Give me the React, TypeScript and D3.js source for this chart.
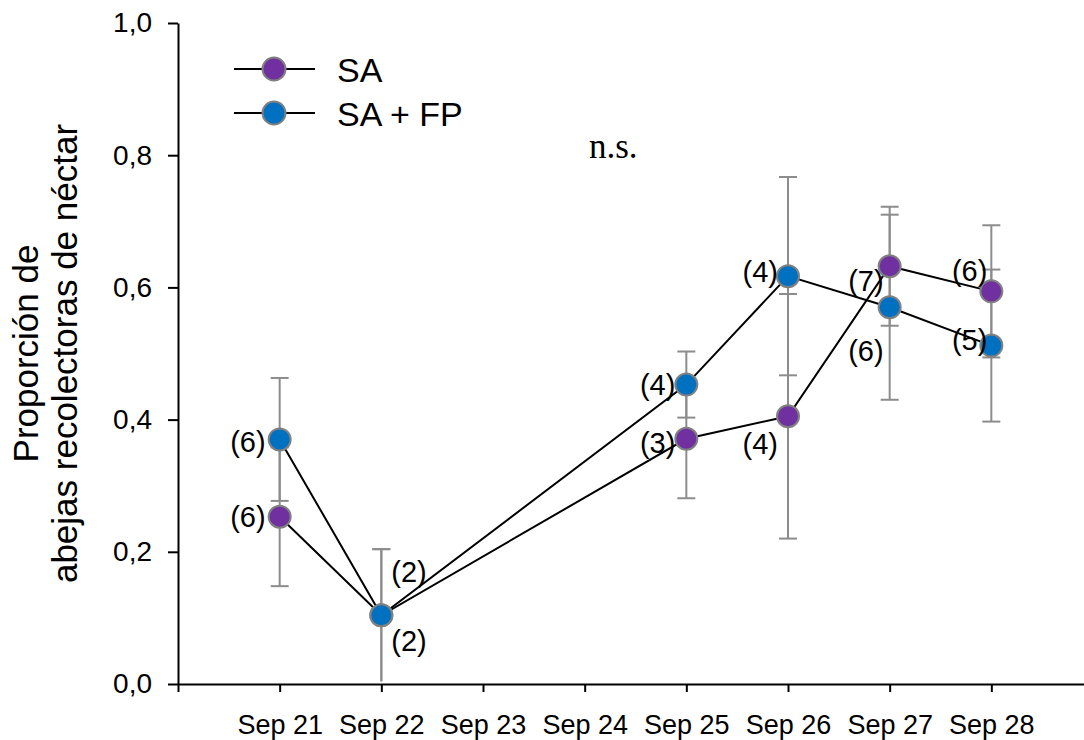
import React, { useRef, useEffect } from "react";
import * as d3 from "d3";

// September sampling days
const sampleDays = [21, 22, 25, 26, 27, 28];
const axisDays = [20, 21, 22, 23, 24, 25, 26, 27, 28];

const saMean = [0.253, 0.104, 0.371, 0.405, 0.632, 0.594];
const saErr = [0.105, 0.1, 0.09, 0.185, 0.09, 0.1];
const saN = [6, 2, 3, 4, 7, 6];

const fpMean = [0.37, 0.104, 0.453, 0.617, 0.57, 0.512];
const fpErr = [0.093, 0.1, 0.05, 0.15, 0.14, 0.115];
const fpN = [6, 2, 4, 4, 6, 5];

const seriesNames = ["SA", "SA + FP"];
const yTicks = [0, 0.2, 0.4, 0.6, 0.8, 1.0];

// label placement (offset from marker centre)
const saLabelDx = [-14, 10, -11, -10, -6, -4];
const saLabelDy = [0, 26, 4, 28, 15, -20];
const fpLabelDx = [-14, 10, -11, -10, -6, -4];
const fpLabelDy = [3, -43, 0, -4, 44, -6];

const W = 1084;
const H = 740;
const FONT = "'Liberation Sans', Arial, sans-serif";

const App = () => {
  const ref = useRef<SVGSVGElement>(null);

  useEffect(() => {
    const svg = d3.select(ref.current);
    svg.selectAll("*").remove();

    const x = d3
      .scaleTime()
      .domain([new Date(2000, 8, 20), new Date(2000, 8, 29)])
      .range([178, 1093]);
    const y = d3.scaleLinear().domain([0, 1]).range([684, 23]);

    const locale = d3.formatLocale({
      decimal: ",",
      thousands: ".",
      grouping: [3],
      currency: ["", "€"],
    });
    const fmt = locale.format(".1f");
    const dayFmt = d3.timeFormat("%b %d");

    // y axis
    const yAxis = svg
      .append("g")
      .attr("transform", `translate(${x.range()[0]},0)`)
      .call(
        d3
          .axisLeft(y)
          .tickValues(yTicks)
          .tickFormat((d) => fmt(d as number))
          .tickSize(10)
          .tickPadding(16)
          .tickSizeOuter(0)
      );
    yAxis.select(".domain").attr("stroke", "#000").attr("stroke-width", 2);
    yAxis.selectAll(".tick line").attr("stroke", "#000").attr("stroke-width", 2);
    yAxis
      .selectAll(".tick text")
      .attr("font-family", FONT)
      .attr("font-size", 28)
      .attr("fill", "#000");

    // x axis
    const xAxis = svg
      .append("g")
      .attr("transform", `translate(0,${y(0)})`)
      .call(
        d3
          .axisBottom(x)
          .tickValues(axisDays.map((d) => new Date(2000, 8, d)))
          .tickFormat((d) =>
            (d as Date).getDate() === 20 ? "" : dayFmt(d as Date)
          )
          .tickSize(8)
          .tickPadding(23)
          .tickSizeOuter(0)
      );
    xAxis.select(".domain").attr("stroke", "#000").attr("stroke-width", 2);
    xAxis.selectAll(".tick line").attr("stroke", "#000").attr("stroke-width", 2);
    xAxis
      .selectAll(".tick text")
      .attr("font-family", FONT)
      .attr("font-size", 27)
      .attr("fill", "#000");

    // y title
    const title = svg
      .append("text")
      .attr("transform", `translate(0,${(y(0) + y(1)) / 2}) rotate(-90)`)
      .attr("text-anchor", "middle")
      .attr("font-family", FONT)
      .attr("font-size", 35)
      .attr("fill", "#000");
    title.append("tspan").attr("x", 0).attr("y", 38).text("Proporción de");
    title
      .append("tspan")
      .attr("x", 0)
      .attr("y", 77)
      .text("abejas recolectoras de néctar");

    const series = [
      {
        name: seriesNames[0],
        mean: saMean,
        err: saErr,
        n: saN,
        dx: saLabelDx,
        dy: saLabelDy,
        color: "#7030a0",
      },
      {
        name: seriesNames[1],
        mean: fpMean,
        err: fpErr,
        n: fpN,
        dx: fpLabelDx,
        dy: fpLabelDy,
        color: "#0070c0",
      },
    ];

    const px = (i) => x(new Date(2000, 8, sampleDays[i]));

    // error bars
    series.forEach((s) => {
      const g = svg.append("g").attr("stroke", "#8c8c8c").attr("stroke-width", 2);
      s.mean.forEach((m, i) => {
        const cx = px(i);
        const hi = y(m + s.err[i]);
        const lo = y(Math.max(0, m - s.err[i]));
        g.append("line").attr("x1", cx).attr("x2", cx).attr("y1", hi).attr("y2", lo);
        g.append("line").attr("x1", cx - 9).attr("x2", cx + 9).attr("y1", hi).attr("y2", hi);
        if (m - s.err[i] > 0.01)
          g.append("line").attr("x1", cx - 9).attr("x2", cx + 9).attr("y1", lo).attr("y2", lo);
      });
    });

    // lines
    series.forEach((s) => {
      const line = d3
        .line<number>()
        .x((d, i) => px(i))
        .y((d) => y(d));
      svg
        .append("path")
        .attr("d", line(s.mean))
        .attr("fill", "none")
        .attr("stroke", "#000")
        .attr("stroke-width", 2);
    });

    // markers
    series.forEach((s) => {
      svg
        .append("g")
        .selectAll("circle")
        .data(s.mean)
        .enter()
        .append("circle")
        .attr("cx", (d, i) => px(i))
        .attr("cy", (d) => y(d))
        .attr("r", 11)
        .attr("fill", s.color)
        .attr("stroke", "#808080")
        .attr("stroke-width", 2);
    });

    // n labels
    series.forEach((s) => {
      svg
        .append("g")
        .selectAll("text")
        .data(s.n)
        .enter()
        .append("text")
        .attr("x", (d, i) => px(i) + s.dx[i])
        .attr("y", (d, i) => y(s.mean[i]) + s.dy[i])
        .attr("text-anchor", (d, i) => (s.dx[i] < 0 ? "end" : "start"))
        .attr("dominant-baseline", "central")
        .attr("font-family", FONT)
        .attr("font-size", 29)
        .attr("fill", "#000")
        .text((d) => `(${d})`);
    });

    // legend
    series.forEach((s, i) => {
      const ly = 69 + i * 44;
      const g = svg.append("g");
      g.append("line")
        .attr("x1", 234)
        .attr("x2", 315)
        .attr("y1", ly)
        .attr("y2", ly)
        .attr("stroke", "#000")
        .attr("stroke-width", 2);
      g.append("circle")
        .attr("cx", 274)
        .attr("cy", ly)
        .attr("r", 11.5)
        .attr("fill", s.color)
        .attr("stroke", "#808080")
        .attr("stroke-width", 2);
      g.append("text")
        .attr("x", 337)
        .attr("y", ly + 13)
        .attr("font-family", FONT)
        .attr("font-size", 34)
        .attr("fill", "#000")
        .text(s.name);
    });

    // significance
    svg
      .append("text")
      .attr("x", 589)
      .attr("y", 158)
      .attr("font-family", "'Liberation Serif', serif")
      .attr("font-size", 35)
      .attr("fill", "#000")
      .text("n.s.");
  }, []);

  return (
    <svg
      ref={ref}
      width={W}
      height={H}
      style={{ position: "absolute", left: 0, top: 0, background: "#fff" }}
    ></svg>
  );
};

export default App;
